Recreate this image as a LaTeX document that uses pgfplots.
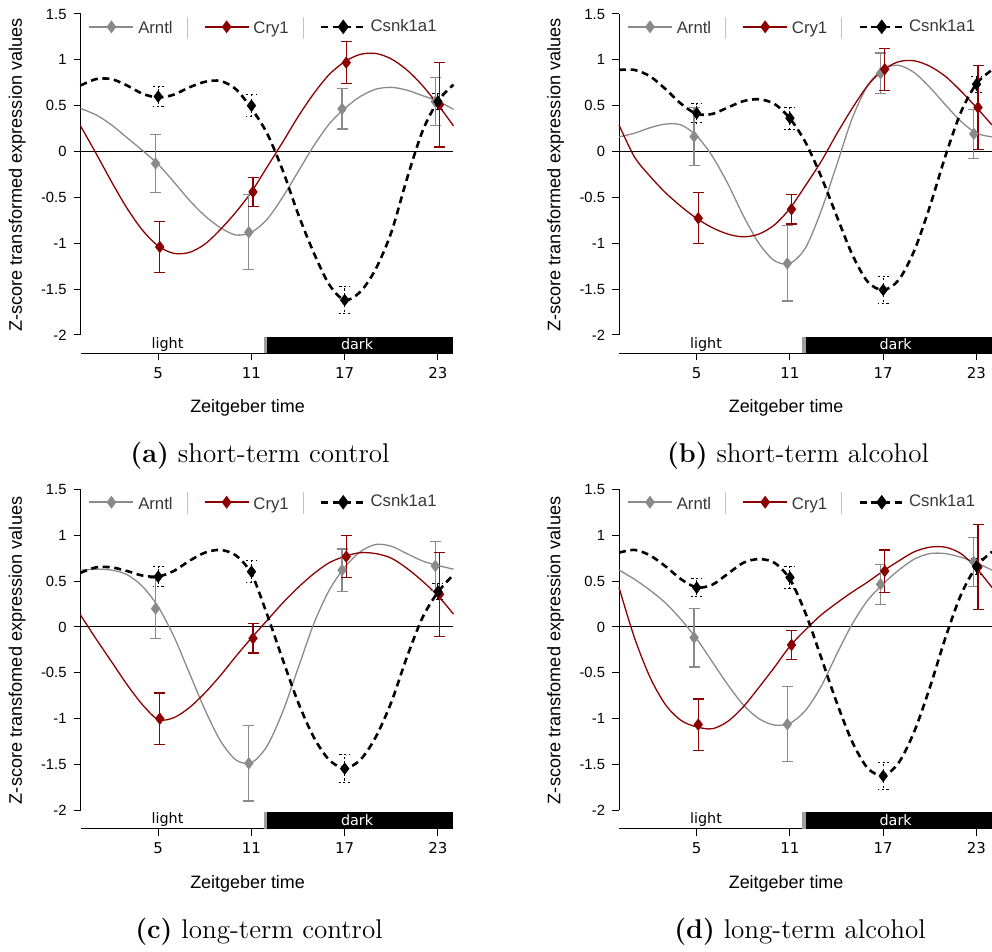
\documentclass[border=0pt]{standalone}
\usepackage{pgfplots}
\usepackage{pgfplotstable}
\pgfplotsset{compat=1.18}
\usepackage{fontspec}
\newfontfamily\lsans{Liberation Sans}
\newfontfamily\dvs{DejaVu Sans}
\definecolor{agray}{RGB}{138,138,138}
\definecolor{cred}{RGB}{139,0,0}
\definecolor{sepgray}{RGB}{195,195,195}
\definecolor{legtext}{RGB}{55,55,55}

% ---------- fitted curves ----------
\pgfplotstableread{
h arntl cry csnk
0 0.47 0.28 0.72
1 0.40 -0.02 0.79
2 0.29 -0.33 0.79
3 0.15 -0.62 0.72
4 0.01 -0.86 0.63
5 -0.14 -1.03 0.59
6 -0.33 -1.11 0.62
7 -0.53 -1.10 0.70
8 -0.70 -1.01 0.76
9 -0.83 -0.85 0.77
10 -0.91 -0.66 0.68
11 -0.88 -0.44 0.47
12 -0.74 -0.17 0.20
13 -0.50 0.10 -0.20
14 -0.22 0.38 -0.68
15 0.06 0.63 -1.10
16 0.30 0.84 -1.45
17 0.47 0.98 -1.62
18 0.60 1.06 -1.53
19 0.68 1.07 -1.28
20 0.70 1.01 -0.88
21 0.67 0.89 -0.30
22 0.61 0.72 0.22
23 0.55 0.51 0.55
24 0.46 0.28 0.73
}\curveA
\pgfplotstableread{
h arntl cry csnk
0 0.16 0.29 0.89
1 0.20 -0.06 0.89
2 0.26 -0.27 0.82
3 0.30 -0.45 0.68
4 0.29 -0.60 0.52
5 0.17 -0.73 0.41
6 -0.05 -0.83 0.41
7 -0.35 -0.90 0.48
8 -0.70 -0.93 0.55
9 -1.00 -0.90 0.57
10 -1.19 -0.80 0.52
11 -1.22 -0.62 0.36
12 -1.05 -0.37 0.10
13 -0.65 -0.11 -0.27
14 -0.15 0.19 -0.70
15 0.36 0.47 -1.12
16 0.72 0.72 -1.42
17 0.90 0.89 -1.51
18 0.94 0.98 -1.40
19 0.86 0.99 -1.08
20 0.70 0.93 -0.60
21 0.51 0.82 -0.05
22 0.33 0.66 0.43
23 0.20 0.48 0.74
24 0.16 0.29 0.89
}\curveB
\pgfplotstableread{
h arntl cry csnk
0 0.62 0.13 0.59
1 0.63 -0.13 0.65
2 0.62 -0.38 0.65
3 0.57 -0.63 0.61
4 0.44 -0.85 0.56
5 0.22 -1.01 0.55
6 -0.10 -0.99 0.61
7 -0.50 -0.88 0.72
8 -0.90 -0.72 0.81
9 -1.24 -0.53 0.84
10 -1.45 -0.32 0.78
11 -1.48 -0.12 0.58
12 -1.30 0.07 0.14
13 -0.93 0.26 -0.35
14 -0.45 0.43 -0.82
15 0.03 0.58 -1.20
16 0.40 0.70 -1.45
17 0.65 0.77 -1.54
18 0.82 0.81 -1.45
19 0.90 0.80 -1.20
20 0.88 0.75 -0.82
21 0.80 0.64 -0.33
22 0.72 0.50 0.10
23 0.67 0.34 0.38
24 0.63 0.14 0.57
}\curveC
\pgfplotstableread{
h arntl cry csnk
0 0.62 0.43 0.81
1 0.52 -0.12 0.84
2 0.40 -0.55 0.78
3 0.26 -0.85 0.66
4 0.08 -1.02 0.52
5 -0.13 -1.09 0.43
6 -0.38 -1.11 0.46
7 -0.63 -1.03 0.58
8 -0.85 -0.87 0.70
9 -1.00 -0.66 0.74
10 -1.07 -0.44 0.70
11 -1.05 -0.21 0.52
12 -0.91 -0.03 0.15
13 -0.65 0.13 -0.33
14 -0.30 0.26 -0.82
15 0.03 0.38 -1.25
16 0.29 0.49 -1.54
17 0.47 0.61 -1.62
18 0.62 0.72 -1.48
19 0.74 0.82 -1.14
20 0.80 0.87 -0.66
21 0.80 0.87 -0.12
22 0.76 0.80 0.35
23 0.70 0.64 0.66
24 0.62 0.43 0.82
}\curveD

% ---------- measured points with error bars ----------
\pgfplotstableread{
xa arntl ae xc cry ce xs csnk se
4.83 -0.13 0.32 5.1 -1.04 0.28 5 0.60 0.105
10.83 -0.88 0.41 11.1 -0.44 0.16 11 0.50 0.12
16.83 0.465 0.22 17.1 0.97 0.23 17 -1.62 0.15
22.83 0.545 0.265 23.1 0.51 0.46 23 0.545 0.09
}\pointsA
\pgfplotstableread{
xa arntl ae xc cry ce xs csnk se
4.83 0.164 0.32 5.1 -0.727 0.28 5 0.418 0.105
10.83 -1.22 0.41 11.1 -0.629 0.16 11 0.364 0.12
16.83 0.854 0.22 17.1 0.898 0.23 17 -1.509 0.15
22.83 0.193 0.265 23.1 0.48 0.46 23 0.734 0.085
}\pointsB
\pgfplotstableread{
xa arntl ae xc cry ce xs csnk se
4.83 0.20 0.33 5.1 -1.0 0.28 5 0.549 0.11
10.83 -1.487 0.41 11.1 -0.124 0.16 11 0.603 0.12
16.83 0.62 0.23 17.1 0.767 0.23 17 -1.545 0.15
22.83 0.665 0.27 23.1 0.356 0.46 23 0.385 0.09
}\pointsC
\pgfplotstableread{
xa arntl ae xc cry ce xs csnk se
4.83 -0.116 0.32 5.1 -1.065 0.28 5 0.429 0.10
10.83 -1.061 0.41 11.1 -0.196 0.16 11 0.54 0.12
16.83 0.465 0.22 17.1 0.61 0.23 17 -1.625 0.15
22.83 0.709 0.265 23.1 0.654 0.46 23 0.66 0.09
}\pointsD

\pgfplotsset{
  panel/.style={
    width=186.5bp, height=169.65bp, scale only axis,
    xmin=0, xmax=24, ymin=-2.2, ymax=1.5,
    axis x line*=bottom, axis y line*=left,
    y axis line style={draw=none},
    x axis line style={line width=0.5bp},
    xtick={5,11,17,23}, xticklabels={5,11,17,23},
    ytick={-2,-1.5,-1,-0.5,0,0.5,1,1.5},
    yticklabels={-2,-1.5,-1,-0.5,0,0.5,1,1.5},
    tick align=outside, major tick length=3.5bp,
    every tick/.style={black, line width=0.5bp},
    xticklabel style={font=\dvs\fontsize{7.5}{9}\selectfont},
    yticklabel style={font=\lsans\fontsize{7.4}{9}\selectfont},
    xlabel={Zeitgeber time},
    xlabel style={font=\lsans\fontsize{9}{11}\selectfont, at={(axis description cs:0.448,-0.162)}, anchor=center},
    ylabel style={font=\lsans\fontsize{9.1}{11}\selectfont, at={(axis description cs:-0.170,0.5255)}, anchor=center},
    clip=false,
    legend columns=3,
    legend style={draw=none, fill=none, at={(axis cs:0.5,1.36)}, anchor=west,
      font=\lsans\fontsize{8.4}{10}\selectfont, text=legtext,
      /tikz/every even column/.append style={column sep=6bp},
      inner sep=0pt},
    legend cell align=left,
    legend image code/.code={\draw[mark repeat=2,mark phase=2,#1] plot coordinates {(0bp,0bp) (11bp,0bp) (22bp,0bp)};},
  }
}

\newcommand{\sep}{\hspace{7bp}\textcolor{sepgray}{\rule[-2.5bp]{0.6bp}{11bp}}}

\newcommand{\panelplots}[2]{%
  \draw[black, line width=0.5bp] (axis cs:0,0) -- (axis cs:24,0);
  \fill[black] (axis cs:12,-2.2) rectangle (axis cs:24,-2.018);
  \fill[gray!75] (axis cs:11.8,-2.2) rectangle (axis cs:12,-2.018);
  \node[font=\dvs\fontsize{7.2}{8}\selectfont, black] at (axis cs:5.6,-2.105) {light};
  \node[font=\dvs\fontsize{7.2}{8}\selectfont, white] at (axis cs:17.8,-2.105) {dark};
  \draw[black, line width=0.5bp] (axis cs:0,-2) -- (axis cs:0,1.5);
  \addplot[agray, line width=0.65bp, smooth, forget plot] table[x=h, y=arntl] {#1};
  \addplot[cred, line width=0.65bp, smooth, forget plot] table[x=h, y=cry] {#1};
  \addplot[black, line width=1.3bp, dash pattern=on 3.5bp off 2.3bp, smooth, forget plot] table[x=h, y=csnk] {#1};
  \addplot[agray, only marks, mark=diamond*, mark size=2.8bp, forget plot,
    error bars/.cd, y dir=both, y explicit,
    error bar style={agray, line width=0.6bp},
    error mark options={agray, rotate=90, mark size=2.75bp, line width=0.6bp}]
    table[x=xa, y=arntl, y error=ae] {#2};
  \addplot[cred, only marks, mark=diamond*, mark size=2.8bp, forget plot,
    error bars/.cd, y dir=both, y explicit,
    error bar style={cred, line width=0.6bp},
    error mark options={cred, rotate=90, mark size=2.75bp, line width=0.6bp}]
    table[x=xc, y=cry, y error=ce] {#2};
  \addplot[black, only marks, mark=diamond*, mark size=2.8bp, forget plot,
    error bars/.cd, y dir=both, y explicit,
    error bar style={black, line width=0.5bp, dash pattern=on 1.2bp off 1.2bp},
    error mark options={black, rotate=90, mark size=2.75bp, line width=0.5bp, dash pattern=on 1.2bp off 1.2bp}]
    table[x=xs, y=csnk, y error=se] {#2};
  \addlegendimage{agray, line width=0.8bp, mark=diamond*, mark size=2.6bp, mark options={solid}}
  \addlegendentry{Arntl\sep}
  \addlegendimage{cred, line width=0.8bp, mark=diamond*, mark size=2.6bp, mark options={solid}}
  \addlegendentry{Cry1\sep}
  \addlegendimage{black, line width=1.3bp, dash pattern=on 3.5bp off 2.3bp, mark=diamond*, mark size=2.6bp, mark options={solid}}
  \addlegendentry{Csnk1a1}
}

\begin{document}
\begin{tikzpicture}
\useasboundingbox (0,0) rectangle (496bp,476bp);

\begin{axis}[panel, at={(40.25bp,299.35bp)}, anchor=south west,
  ylabel={Z-score transformed expression values}]
\panelplots{\curveA}{\pointsA}
\end{axis}

\begin{axis}[panel, at={(309.5bp,299.35bp)}, anchor=south west,
  ylabel={Z-score transformed expression values}]
\panelplots{\curveB}{\pointsB}
\end{axis}

\begin{axis}[panel, at={(40.25bp,61.65bp)}, anchor=south west,
  ylabel={Z-score transfomed expression values}]
\panelplots{\curveC}{\pointsC}
\end{axis}

\begin{axis}[panel, at={(309.5bp,61.65bp)}, anchor=south west,
  ylabel={Z-score transfomed expression values}]
\panelplots{\curveD}{\pointsD}
\end{axis}

\node[font=\fontsize{13.6}{16}\selectfont, anchor=base] at (130bp,244.5bp) {\textbf{(a)} short-term control};
\node[font=\fontsize{13.6}{16}\selectfont, anchor=base] at (399bp,244.5bp) {\textbf{(b)} short-term alcohol};
\node[font=\fontsize{13.6}{16}\selectfont, anchor=base] at (129.5bp,7bp) {\textbf{(c)} long-term control};
\node[font=\fontsize{13.6}{16}\selectfont, anchor=base] at (400bp,7bp) {\textbf{(d)} long-term alcohol};
\end{tikzpicture}
\end{document}
